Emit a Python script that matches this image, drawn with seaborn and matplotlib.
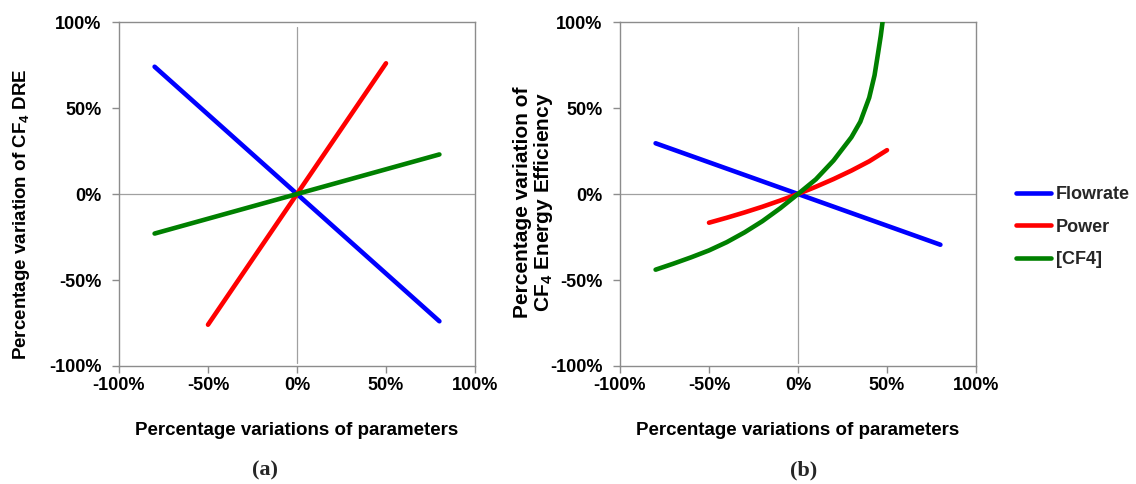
import numpy as np
import pandas as pd
import matplotlib
matplotlib.use("Agg")
import matplotlib.pyplot as plt
import seaborn as sns

# ---------------- data (percent) ----------------
series_names = ["Flowrate", "Power", "[CF4]"]
colors = ["#0000FF", "#FF0000", "#008000"]

# panel (a): CF4 DRE
a_flow_x = [-80, 80]
a_flow_y = [74, -74]
a_power_x = [-50, 50]
a_power_y = [-76, 76]
a_cf4_x = [-80, 80]
a_cf4_y = [-23, 23]

# panel (b): CF4 energy efficiency
b_flow_x = [-80, 80]
b_flow_y = [29.5, -29.5]
b_power_x = [-50, -40, -30, -20, -10, 0, 10, 20, 30, 40, 50]
b_power_y = [-16.7, -13.8, -10.7, -7.4, -3.8, 0, 4.2, 8.7, 13.6, 19.0, 25.5]
b_cf4_x = [-80, -70, -60, -50, -40, -30, -20, -10, 0, 10, 20, 30, 35, 40, 43, 45, 46.5, 47.5]
b_cf4_y = [-44, -40.5, -36.8, -32.8, -28, -22.3, -15.8, -8.3, 0, 8.5, 19.5, 33, 42, 56, 69, 82, 92, 100]

tick_vals = [-100, -50, 0, 50, 100]
tick_labels = ["-100%", "-50%", "0%", "50%", "100%"]

xlabel = "Percentage variations of parameters"
ylabel_a = "Percentage variation of CF$_\\mathbf{4}$ DRE"
ylabel_b = "Percentage variation of\nCF$_\\mathbf{4}$ Energy Efficiency"

# ---------------- style ----------------
sns.set_theme(style="white")
plt.rcParams["font.family"] = ["Liberation Sans", "DejaVu Sans"]
plt.rcParams["font.weight"] = "bold"
plt.rcParams["axes.unicode_minus"] = False
plt.rcParams["mathtext.fontset"] = "custom"
plt.rcParams["mathtext.rm"] = "Liberation Sans:bold"
plt.rcParams["mathtext.bf"] = "Liberation Sans:bold"
plt.rcParams["mathtext.default"] = "bf"

TICK_FS = 13
LAB_FS = 13.5


def make_df(fx, fy, px, py, cx, cy):
    parts = []
    for name, xs, ys in zip(series_names, [fx, px, cx], [fy, py, cy]):
        parts.append(pd.DataFrame({"x": xs, "y": ys, "series": name}))
    return pd.concat(parts, ignore_index=True)


df_a = make_df(a_flow_x, a_flow_y, a_power_x, a_power_y, a_cf4_x, a_cf4_y)
df_b = make_df(b_flow_x, b_flow_y, b_power_x, b_power_y, b_cf4_x, b_cf4_y)
palette = dict(zip(series_names, colors))

fig = plt.figure(figsize=(11.36, 4.84), dpi=100)
ax1 = fig.add_axes([119 / 1136, 1 - 366 / 484, 356 / 1136, 344 / 484])
ax2 = fig.add_axes([620 / 1136, 1 - 366 / 484, 356 / 1136, 344 / 484])

for ax, df, leg in [(ax1, df_a, False), (ax2, df_b, True)]:
    ax.axhline(0, color="#A0A0A0", lw=0.9, zorder=1)
    ax.axvline(0, color="#A0A0A0", lw=0.9, ymin=0.01, ymax=0.985, zorder=1)
    sns.lineplot(data=df, x="x", y="y", hue="series", palette=palette,
                 hue_order=series_names, sort=False, estimator=None,
                 lw=3.3, ax=ax, legend=leg, zorder=3)
    ax.set_xlim(-100, 100)
    ax.set_ylim(-100, 100)
    ax.set_xticks(tick_vals)
    ax.set_xticklabels(tick_labels)
    ax.set_yticks(tick_vals)
    ax.set_yticklabels(tick_labels)
    for s in ax.spines.values():
        s.set_color("#8C8C8C")
        s.set_linewidth(1.0)
    ax.tick_params(axis="both", which="major", direction="out", length=5,
                   width=1, color="#8C8C8C", labelsize=TICK_FS, pad=3,
                   bottom=True, left=True)
    ax.tick_params(axis="y", pad=7.5)
    for lab in ax.get_xticklabels() + ax.get_yticklabels():
        lab.set_fontweight("bold")
        lab.set_color("black")
    ax.set_xlabel(xlabel, fontsize=LAB_FS, fontweight="bold", labelpad=20, color="black")

ax1.set_ylabel(ylabel_a, fontsize=LAB_FS, fontweight="bold", color="black")
ax1.yaxis.set_label_coords(-0.244, 0.44)
ax2.set_ylabel(ylabel_b, fontsize=15, fontweight="bold", color="black",
               linespacing=0.98)
ax2.yaxis.set_label_coords(-0.183, 0.477)

handles, labels = ax2.get_legend_handles_labels()
ax2.get_legend().remove()
fig.legend(handles, labels, loc="center left", bbox_to_anchor=(1000 / 1136, 1 - 227 / 484),
           frameon=False, handlelength=1.95, handletextpad=0.25,
           labelspacing=0.85, prop={"weight": "bold", "size": TICK_FS})

fig.text(265 / 1136, 1 - 470 / 484, "(a)", ha="center", va="center",
         fontsize=16, fontweight="bold", family=["Liberation Serif", "DejaVu Serif"])
fig.text(804 / 1136, 1 - 470 / 484, "(b)", ha="center", va="center",
         fontsize=16, fontweight="bold", family=["Liberation Serif", "DejaVu Serif"])

fig.savefig("out.png", dpi=100)
